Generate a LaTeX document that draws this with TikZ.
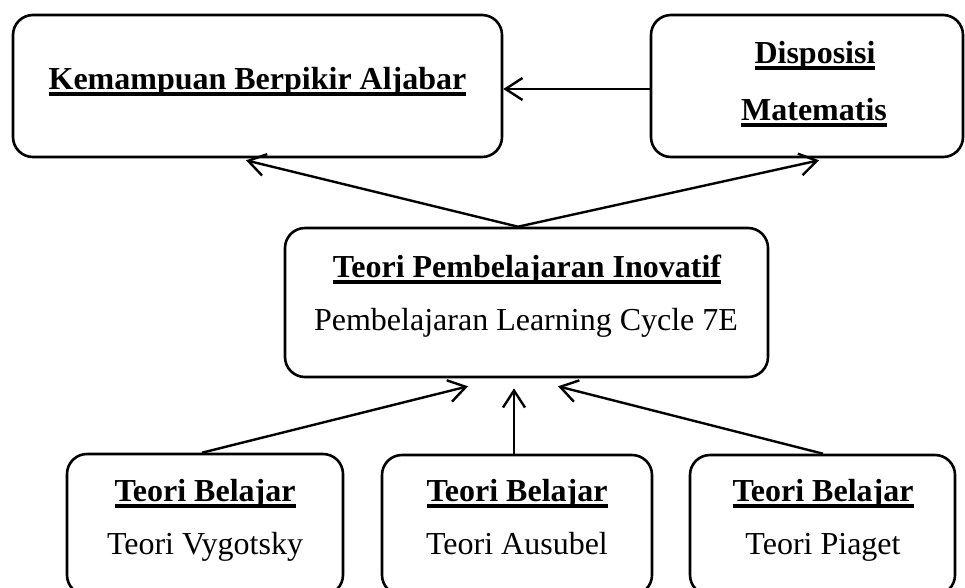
\documentclass[tikz,border=0pt]{standalone}
\usepackage{fontspec}
\setmainfont{Liberation Serif}
\usetikzlibrary{arrows.meta,calc}
\newcommand\ulx[1]{\setbox0\hbox{#1}\rlap{\rule[-6.5pt]{\wd0}{3.2pt}}\box0}
\begin{document}
\begin{tikzpicture}[x=1pt,y=-1pt,
 boxnode/.style={draw,line width=2.6pt,rounded corners=20pt,inner sep=0pt},
 arr/.style={line width=2.4pt,-{Straight Barb[length=17pt,width=22pt]}},
 lbl/.style={anchor=base,inner sep=0pt,font=\fontsize{32}{38}\selectfont},
 blbl/.style={lbl,font=\fontsize{32}{38}\selectfont\bfseries}]
\useasboundingbox (0,0) rectangle (965,587);
\clip (0,0) rectangle (965,587);
% boxes
\node[boxnode,minimum width=489pt,minimum height=142pt] (kba) at (257.5,86) {};
\node[boxnode,minimum width=312pt,minimum height=142pt] (dm) at (807,86) {};
\node[boxnode,minimum width=483pt,minimum height=149pt] (mid) at (526.5,302.5) {};
\node[boxnode,minimum width=276pt,minimum height=141pt] (b1) at (205,524.5) {};
\node[boxnode,minimum width=270pt,minimum height=140pt] (b2) at (517,525) {};
\node[boxnode,minimum width=265pt,minimum height=140pt] (b3) at (822.5,525) {};
% texts
\node[blbl] (t1) at (257.5,89) {\ulx{Kemampuan Berpikir Aljabar}};
\node[blbl] (t2) at (815,63) {\ulx{Disposisi}};
\node[blbl] (t3) at (814,120) {\ulx{Matematis}};
\node[blbl] (t4) at (527,277) {\ulx{Teori Pembelajaran Inovatif}};
\node[lbl] (t5) at (526,330) {Pembelajaran Learning Cycle 7E};
\node[blbl] (t6) at (205,501) {\ulx{Teori Belajar}};
\node[lbl] (t7) at (205,554) {Teori Vygotsky};
\node[blbl] (t8) at (517,501) {\ulx{Teori Belajar}};
\node[lbl] (t9) at (517,554) {Teori Ausubel};
\node[blbl] (t10) at (823,501) {\ulx{Teori Belajar}};
\node[lbl] (t11) at (823,554) {Teori Piaget};
% connectors
\draw[arr] ($(dm.west)+(0,3)$) -- ($(kba.east)+(0,3)$);
\draw[arr] ($(mid.north)+(-8.5,0)$) -- ($(kba.south)+(-11.5,2)$);
\draw[arr] ($(mid.north)+(-8.5,0)$) -- ($(dm.south)+(12,2)$);
\draw[arr] ($(b1.north)+(-3,0)$) -- ($(mid.south)+(-58.5,8)$);
\draw[arr] ($(b2.north)+(-3,0)$) -- ($(mid.south)+(-12.5,10)$);
\draw[arr] ($(b3.north)+(0.5,0)$) -- ($(mid.south)+(31.5,8)$);
\end{tikzpicture}
\end{document}
